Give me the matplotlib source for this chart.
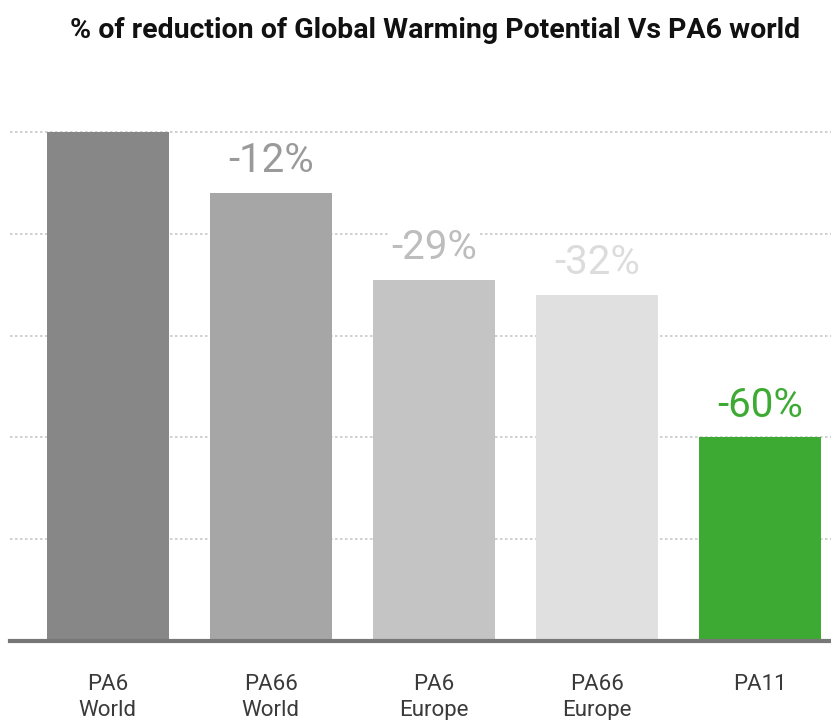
import matplotlib as mpl
mpl.use('Agg')
import matplotlib.pyplot as plt

plt.rcParams['font.family'] = ['Roboto', 'DejaVu Sans']

# Global warming potential relative to PA6 world (= 100)
categories = ['PA6\nWorld', 'PA66\nWorld', 'PA6\nEurope', 'PA66\nEurope', 'PA11']
values = [100, 88, 71, 68, 40]
labels = ['', '-12%', '-29%', '-32%', '-60%']
bar_colors = ['#878787', '#a6a6a6', '#c4c4c4', '#e0e0e0', '#3dab33']
label_colors = ['#878787', '#9a9a9a', '#bdbdbd', '#dcdcdc', '#3dab33']


def main():
    fig = plt.figure(figsize=(8.31, 7.2), dpi=100)
    ax = fig.add_axes([10 / 831, 79 / 720, 821 / 831, 521 / 720])

    xs = range(len(values))
    ax.bar(xs, values, width=0.75, color=bar_colors, zorder=2)

    for x, v, lab, c in zip(xs, values, labels, label_colors):
        if not lab:
            continue
        ax.annotate(lab, (x, v), xytext=(0, 15), textcoords='offset points',
                    ha='center', va='baseline', fontsize=29, color=c, zorder=3,
                    bbox=dict(facecolor='white', edgecolor='none', pad=2))

    ax.set_xlim(-0.6, 4.436)
    ax.set_ylim(0, 102.36)
    ax.set_yticks([20, 40, 60, 80, 100])
    ax.yaxis.grid(True, color='#c8c8c8', linestyle=(0, (1.5, 1.5)), linewidth=1.2, zorder=0)
    ax.tick_params(axis='y', length=0, labelleft=False)
    ax.set_axisbelow(True)

    ax.set_xticks(list(xs))
    ax.set_xticklabels(categories, fontsize=16, color='#3a3a3a', linespacing=1.3)
    ax.tick_params(axis='x', length=0, pad=24)

    for s in ['top', 'right', 'left']:
        ax.spines[s].set_visible(False)
    ax.spines['bottom'].set_color('#777777')
    ax.spines['bottom'].set_linewidth(3)

    fig.text(435 / 831, 1 - 30 / 720, '% of reduction of Global Warming Potential Vs PA6 world',
             ha='center', va='center', fontsize=20.5, fontweight='bold', color='#111111')

    fig.savefig('out.png', dpi=100)


if __name__ == '__main__':
    main()
